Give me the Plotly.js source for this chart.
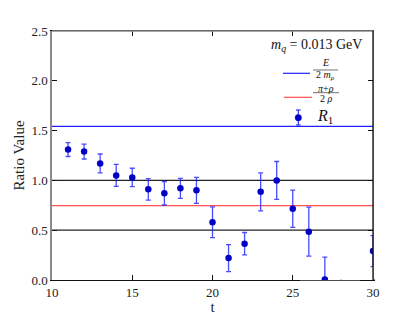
<!DOCTYPE html>
<html>
<head>
<meta charset="utf-8">
<script src="https://cdn.plot.ly/plotly-3.0.1.min.js"></script>
<style>html,body{margin:0;padding:0;background:#fff;}#chart{width:415px;height:315px;}</style>
</head>
<body>
<div id="chart"></div>
<script>
// Data
const t = [11, 12, 13, 14, 15, 16, 17, 18, 19, 20, 21, 22, 23, 24, 25, 26, 27, 28, 30];
const ratio = [1.31, 1.29, 1.17, 1.05, 1.03, 0.91, 0.87, 0.92, 0.90, 0.58, 0.22, 0.365, 0.885, 1.0, 0.715, 0.485, 0.005, -0.03, 0.29];
const ratioErr = [0.07, 0.075, 0.095, 0.11, 0.092, 0.108, 0.117, 0.10, 0.13, 0.155, 0.135, 0.112, 0.19, 0.19, 0.187, 0.246, 0.225, 0.02, 0.155];
const refLevels = [1.0, 0.5];
const eOver2m = 1.543;
const piRhoOver2Rho = 0.746;
const xRange = [10, 30];
const yRange = [0, 2.5];
const xTicks = [10, 15, 20, 25, 30];
const yTicks = [0.0, 0.5, 1.0, 1.5, 2.0, 2.5];

const FONT = "'Liberation Serif', 'DejaVu Serif', serif";

const traces = [];
refLevels.forEach(v => traces.push({
  x: xRange, y: [v, v], mode: 'lines', line: {color: '#222', width: 1.2},
  showlegend: false, hoverinfo: 'skip'
}));
traces.push({x: xRange, y: [eOver2m, eOver2m], mode: 'lines', line: {color: '#2020ff', width: 1.2}, showlegend: false});
traces.push({x: xRange, y: [piRhoOver2Rho, piRhoOver2Rho], mode: 'lines', line: {color: '#ff5050', width: 1.2}, showlegend: false});
traces.push({
  x: t, y: ratio, mode: 'markers', type: 'scatter', cliponaxis: true,
  marker: {color: '#0000c8', size: 6.5},
  error_y: {type: 'data', array: ratioErr, visible: true, color: 'rgba(30,30,255,0.8)', thickness: 1.3, width: 2.5},
  showlegend: false
});

function px2x(p){ return (p - 52) / 321; }
function px2y(p){ return (280 - p) / 249; }

const shapes = [
  // white strips to clip markers at the plot edges (kept clear of tick labels)
  {type: 'rect', xref: 'paper', yref: 'paper', x0: px2x(373.8), x1: px2x(382), y0: px2y(279), y1: px2y(20), fillcolor: '#fff', line: {width: 0}, layer: 'above'},
  {type: 'rect', xref: 'paper', yref: 'paper', x0: px2x(300), x1: px2x(360), y0: px2y(283.6), y1: px2y(280.8), fillcolor: '#fff', line: {width: 0}, layer: 'above'},
  // top spine gray, right spine black
  {type: 'line', xref: 'paper', yref: 'paper', x0: 0, x1: 1, y0: 1, y1: 1, line: {color: '#8a8a8a', width: 1.6}, layer: 'above'},
  {type: 'line', xref: 'paper', yref: 'paper', x0: 1, x1: 1, y0: 0, y1: 1, line: {color: '#111', width: 1.3}, layer: 'above'},
  // legend samples
  {type: 'line', xref: 'paper', yref: 'paper', x0: px2x(283), x1: px2x(310), y0: px2y(73.3), y1: px2y(73.3), line: {color: '#2020ff', width: 1.2}},
  {type: 'line', xref: 'paper', yref: 'paper', x0: px2x(313), x1: px2x(338), y0: px2y(70), y1: px2y(70), line: {color: '#333', width: 0.7}},
  {type: 'line', xref: 'paper', yref: 'paper', x0: px2x(284), x1: px2x(312), y0: px2y(97.3), y1: px2y(97.3), line: {color: '#ff5050', width: 1.2}},
  {type: 'line', xref: 'paper', yref: 'paper', x0: px2x(313), x1: px2x(339), y0: px2y(92.7), y1: px2y(92.7), line: {color: '#333', width: 0.7}},
  {type: 'line', xref: 'paper', yref: 'paper', x0: px2x(298.3), x1: px2x(298.3), y0: px2y(110), y1: px2y(125), line: {color: 'rgba(30,30,255,0.85)', width: 1.3}},
  {type: 'line', xref: 'paper', yref: 'paper', x0: px2x(296), x1: px2x(300.6), y0: px2y(110), y1: px2y(110), line: {color: 'rgba(30,30,255,0.85)', width: 1.3}},
  {type: 'line', xref: 'paper', yref: 'paper', x0: px2x(296), x1: px2x(300.6), y0: px2y(125), y1: px2y(125), line: {color: 'rgba(30,30,255,0.85)', width: 1.3}},
  {type: 'circle', xref: 'paper', yref: 'paper', x0: px2x(295.1), x1: px2x(301.5), y0: px2y(114.5), y1: px2y(120.9), fillcolor: '#0000c8', line: {color: '#0000c8', width: 0.5}}
];

const annotations = [
  {xref: 'paper', yref: 'paper', x: px2x(316), y: px2y(45.7), text: '<i>m</i><sub><i>q</i></sub> = 0.013 GeV', showarrow: false, font: {family: FONT, size: 14, color: '#111'}, xanchor: 'center', yanchor: 'middle'},
  {xref: 'paper', yref: 'paper', x: px2x(325.5), y: px2y(62.5), text: '<i>E</i>', showarrow: false, font: {family: FONT, size: 10, color: '#111'}, xanchor: 'center', yanchor: 'middle'},
  {xref: 'paper', yref: 'paper', x: px2x(325.5), y: px2y(75), text: '2 <i>m</i><sub><i>ρ</i></sub>', showarrow: false, font: {family: FONT, size: 10, color: '#111'}, xanchor: 'center', yanchor: 'middle'},
  {xref: 'paper', yref: 'paper', x: px2x(326), y: px2y(88), text: '<i>π</i>+<i>ρ</i>', showarrow: false, font: {family: FONT, size: 10, color: '#111'}, xanchor: 'center', yanchor: 'middle'},
  {xref: 'paper', yref: 'paper', x: px2x(326), y: px2y(99), text: '2 <i>ρ</i>', showarrow: false, font: {family: FONT, size: 10, color: '#111'}, xanchor: 'center', yanchor: 'middle'},
  {xref: 'paper', yref: 'paper', x: px2x(315), y: px2y(117), text: '<i>R</i><sub>1</sub>', showarrow: false, font: {family: FONT, size: 16, color: '#111'}, xanchor: 'left', yanchor: 'middle'}
];

const layout = {
  width: 415, height: 315,
  margin: {l: 52, r: 42, t: 31, b: 35, pad: 0},
  paper_bgcolor: '#fff', plot_bgcolor: '#fff',
  font: {family: FONT, size: 13, color: '#222'},
  showlegend: false,
  xaxis: {
    range: xRange, tickvals: xTicks, ticktext: xTicks.map(String),
    showgrid: false, zeroline: false,
    showline: true, linecolor: '#111', linewidth: 1.3, mirror: 'ticks',
    ticks: 'inside', ticklen: 5, tickcolor: '#111', tickwidth: 1,
    tickfont: {family: FONT, size: 13, color: '#222'},
    title: {text: 't', font: {family: FONT, size: 15, color: '#222'}, standoff: 1}
  },
  yaxis: {
    range: yRange, tickvals: yTicks, ticktext: yTicks.map(v => v.toFixed(1)),
    showgrid: false, zeroline: false,
    showline: true, linecolor: '#8a8a8a', linewidth: 1.6, mirror: 'ticks',
    ticks: 'inside', ticklen: 5, tickcolor: '#111', tickwidth: 1,
    tickfont: {family: FONT, size: 13, color: '#222'},
    title: {text: 'Ratio Value', font: {family: FONT, size: 15, color: '#222'}, standoff: 3}
  },
  shapes: shapes,
  annotations: annotations
};

Plotly.newPlot('chart', traces, layout, {displayModeBar: false, staticPlot: true});
</script>
</body>
</html>
